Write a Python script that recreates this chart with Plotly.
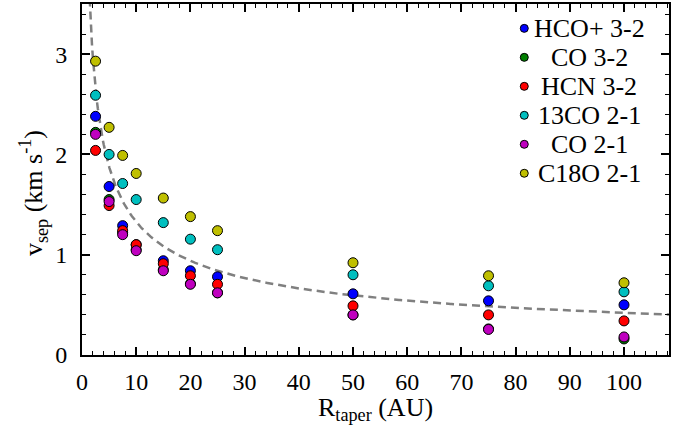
import numpy as np
import plotly.graph_objects as go

# ---- data ----
R_taper = [2.5, 5, 7.5, 10, 15, 20, 25, 50, 75, 100]
series_names = ["HCO+ 3-2", "CO 3-2", "HCN 3-2", "13CO 2-1", "CO 2-1", "C18O 2-1"]
hco_32  = [2.38, 1.68, 1.29, 1.10, 0.94, 0.84, 0.78, 0.61, 0.54, 0.50]
co_32   = [2.22, 1.55, 1.22, 1.05, 0.85, 0.71, 0.62, 0.40, 0.26, 0.16]
hcn_32  = [2.04, 1.49, 1.24, 1.10, 0.91, 0.79, 0.705, 0.49, 0.40, 0.34]
c13o_21 = [2.59, 2.00, 1.71, 1.55, 1.32, 1.155, 1.05, 0.80, 0.69, 0.63]
co_21   = [2.20, 1.53, 1.20, 1.04, 0.84, 0.705, 0.62, 0.40, 0.255, 0.18]
c18o_21 = [2.93, 2.27, 1.99, 1.81, 1.565, 1.38, 1.24, 0.92, 0.79, 0.72]
series_values = [hco_32, co_32, hcn_32, c13o_21, co_21, c18o_21]
series_colors = ["#0000ff", "#007f00", "#ff0000", "#00bfbf", "#bf00bf", "#bfbf00"]

# model curve v = A * R^-0.5
model_A = 4.2
R_model = np.linspace(1.3, 109, 600)
v_model = model_A / np.sqrt(R_model)

FONT = "Liberation Serif"

fig = go.Figure()
fig.add_trace(go.Scatter(x=R_model, y=v_model, mode="lines",
                         line=dict(color="#808080", width=2.5, dash="8px,5px"),
                         showlegend=False, hoverinfo="skip"))
for name, vals, col in zip(series_names, series_values, series_colors):
    fig.add_trace(go.Scatter(x=R_taper, y=vals, mode="markers", name=name,
                             marker=dict(size=10, color=col,
                                         line=dict(color="black", width=1)),
                             showlegend=False))

# manual legend (centered text like the reference)
leg_x_marker = 81.6
leg_x_text = 93.6
leg_y0 = 3.257
leg_dy = 0.289
shapes = []
annots = []
for i, (name, col) in enumerate(zip(series_names, series_colors)):
    yy = leg_y0 - i * leg_dy
    shapes.append(dict(type="circle", xref="x", yref="y", xsizemode="pixel",
                       ysizemode="pixel", xanchor=leg_x_marker, yanchor=yy,
                       x0=-4, x1=4, y0=-4, y1=4, fillcolor=col,
                       line=dict(color="black", width=1)))
    annots.append(dict(x=leg_x_text, y=yy, xref="x", yref="y", text=name,
                       showarrow=False, xanchor="center", yanchor="middle",
                       font=dict(family=FONT, size=26, color="black")))

annots.append(dict(x=0.5, y=-0.153, xref="paper", yref="paper",
                   text="R<sub>taper</sub> (AU)", showarrow=False,
                   xanchor="center", yanchor="middle",
                   font=dict(family=FONT, size=26, color="black")))
annots.append(dict(x=-0.083, y=0.462, xref="paper", yref="paper",
                   text="v<sub>sep</sub> (km s<sup>-1</sup>)", showarrow=False,
                   textangle=-90, xanchor="center", yanchor="middle",
                   font=dict(family=FONT, size=26, color="black")))

axis_common = dict(showgrid=False, zeroline=False, showline=True,
                   linecolor="black", linewidth=2, mirror="ticks",
                   ticks="inside", ticklen=8, tickwidth=1.5, tickcolor="black",
                   tickfont=dict(family=FONT, size=24, color="black"))

fig.update_layout(
    width=673, height=433,
    margin=dict(l=82, r=3, t=2, b=78),
    plot_bgcolor="white", paper_bgcolor="white",
    shapes=shapes, annotations=annots, showlegend=False,
    xaxis=dict(range=[0, 108.3], dtick=10, tick0=0,
               minor=dict(dtick=2, ticklen=4, ticks="inside", tickcolor="black", tickwidth=1),
               ticklabelstandoff=4, **axis_common),
    yaxis=dict(range=[0, 3.5], dtick=1, tick0=0,
               minor=dict(dtick=0.2, ticklen=4, ticks="inside", tickcolor="black", tickwidth=1),
               ticklabelstandoff=8, **axis_common),
)

fig.write_html("out.html")
